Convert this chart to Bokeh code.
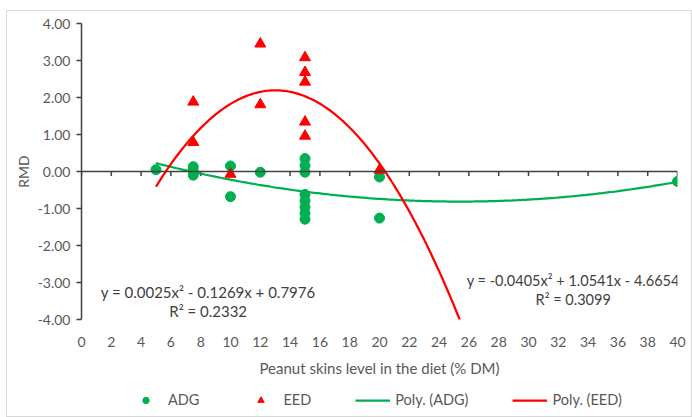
import numpy as np
from bokeh.plotting import figure
from bokeh.layouts import column
from bokeh.models import (Range1d, FixedTicker, PrintfTickFormatter, Span, Label,
                          Legend, LegendItem)
from bokeh.embed import file_html
from bokeh.resources import INLINE

# ---- data ----
adg_x = [5, 7.5, 7.5, 7.5, 10, 10, 12, 15, 15, 15, 15, 15, 15, 15, 15, 20, 20, 40]
adg_y = [0.05, 0.13, 0.02, -0.10, 0.15, -0.68, -0.02, 0.35, 0.16, -0.02,
         -0.62, -0.79, -0.96, -1.13, -1.29, -0.15, -1.26, -0.27]
eed_x = [7.5, 7.5, 10, 12, 12, 15, 15, 15, 15, 15, 20]
eed_y = [1.88, 0.79, -0.07, 3.45, 1.81, 3.08, 2.68, 2.42, 1.34, 0.96, 0.04]
adg_coef = [0.0025, -0.1269, 0.7976]
eed_coef = [-0.0405, 1.0541, -4.6654]
trend_x_min, trend_x_max = 5, 40
x_ticks = list(range(0, 41, 2))
y_ticks = [-4, -3, -2, -1, 0, 1, 2, 3, 4]
adg_eq = ["y = 0.0025x\u00b2 - 0.1269x + 0.7976", "R\u00b2 = 0.2332"]
eed_eq = ["y = -0.0405x\u00b2 + 1.0541x - 4.6654", "R\u00b2 = 0.3099"]
x_title = "Peanut skins level in the diet (% DM)"
y_title = "RMD"
legend_labels = ["ADG", "EED", "Poly. (ADG)", "Poly. (EED)"]

GREEN = "#00B050"
RED = "#FF0000"
AX = "#595959"
FONT = "Lato"

tx = np.linspace(trend_x_min, trend_x_max, 300)
adg_fit = np.polyval(adg_coef, tx)
eed_fit = np.polyval(eed_coef, tx)

p = figure(width=684, height=372, output_backend="svg", toolbar_location=None,
           x_range=Range1d(0, 40), y_range=Range1d(-4, 4),
           min_border_left=74, min_border_right=14, min_border_top=12, min_border_bottom=64)
p.outline_line_color = None
p.xgrid.visible = False
p.ygrid.visible = False
p.background_fill_color = "white"
p.border_fill_color = "white"

# y axis
yax = p.yaxis[0]
yax.ticker = FixedTicker(ticks=y_ticks)
yax.formatter = PrintfTickFormatter(format="%.2f")
yax.axis_line_color = "#404040"
yax.axis_line_width = 1.5
yax.major_tick_line_color = "#404040"
yax.major_tick_line_width = 1.5
yax.major_tick_out = 5
yax.major_tick_in = 0
yax.minor_tick_line_color = None
yax.major_label_standoff = 6
yax.major_label_text_font = FONT
yax.major_label_text_font_size = "14px"
yax.major_label_text_color = AX
yax.axis_label = y_title
yax.axis_label_text_font = FONT
yax.axis_label_text_font_size = "14px"
yax.axis_label_text_font_style = "normal"
yax.axis_label_text_color = AX
yax.axis_label_standoff = 3

# x axis (labels only, at bottom)
xax = p.xaxis[0]
xax.ticker = FixedTicker(ticks=x_ticks)
xax.axis_line_color = None
xax.major_tick_line_color = None
xax.minor_tick_line_color = None
xax.major_label_standoff = 11
xax.major_label_text_font = FONT
xax.major_label_text_font_size = "14px"
xax.major_label_text_color = AX
xax.axis_label = x_title
xax.axis_label_text_font = FONT
xax.axis_label_text_font_size = "15px"
xax.axis_label_text_font_style = "normal"
xax.axis_label_text_color = AX
xax.axis_label_standoff = 9

# horizontal axis line crossing at y = 0, with tick marks
p.add_layout(Span(location=0, dimension="width", line_color="#404040", line_width=1.5))
p.segment(x0=x_ticks, y0=[0] * len(x_ticks), x1=x_ticks, y1=[-0.12] * len(x_ticks),
          line_color="#404040", line_width=1.5)

# trendlines
p.line(tx, adg_fit, line_color=GREEN, line_width=2.25)
p.line(tx, eed_fit, line_color=RED, line_width=2.25)

# points
p.scatter(adg_x, adg_y, marker="circle", size=10, fill_color=GREEN, line_color=GREEN)
p.scatter(eed_x, eed_y, marker="triangle", size=11, fill_color=RED, line_color=RED)

# equations
for i, t in enumerate(adg_eq):
    p.add_layout(Label(x=8.5, y=[-3.27, -3.76][i], text=t, text_align="center",
                       text_baseline="middle", text_font=FONT, text_font_size="15px",
                       text_color="#404040"))
for i, t in enumerate(eed_eq):
    p.add_layout(Label(x=33.0, y=[-2.95, -3.45][i], text=t, text_align="center",
                       text_baseline="middle", text_font=FONT, text_font_size="14.5px",
                       text_color="#404040"))

# legend strip (separate figure below the chart; its renderers hold a point outside its view)
lg = figure(width=684, height=33, output_backend="svg", toolbar_location=None,
            x_range=Range1d(0, 1), y_range=Range1d(0, 1), min_border=0)
lg.axis.visible = False
lg.grid.visible = False
lg.outline_line_color = None
lg.border_fill_color = "white"
off = [-5]
l_adg = lg.scatter(off, off, marker="circle", size=10, fill_color=GREEN, line_color=GREEN)
l_eed = lg.scatter(off, off, marker="triangle", size=11, fill_color=RED, line_color=RED)
l_adg_line = lg.line(off + off, off + off, line_color=GREEN, line_width=2.25)
l_eed_line = lg.line(off + off, off + off, line_color=RED, line_width=2.25)

legend = Legend(items=[
    LegendItem(label=legend_labels[0], renderers=[l_adg]),
    LegendItem(label=legend_labels[1], renderers=[l_eed]),
    LegendItem(label=legend_labels[2], renderers=[l_adg_line]),
    LegendItem(label=legend_labels[3], renderers=[l_eed_line]),
], orientation="horizontal", location=(47, 8))
legend.border_line_color = None
legend.background_fill_alpha = 0
legend.glyph_width = 35
legend.glyph_height = 16
legend.spacing = 44
legend.label_standoff = 5
legend.padding = 0
legend.margin = 0
legend.label_text_font = FONT
legend.label_text_font_size = "14.5px"
legend.label_text_color = AX
lg.add_layout(legend)

layout = column(p, lg, spacing=0, margin=(10, 0, 0, 6),
                styles={"border": "1px solid #d9d9d9", "background": "white"})

open("out.html", "w").write(file_html(layout, INLINE))
